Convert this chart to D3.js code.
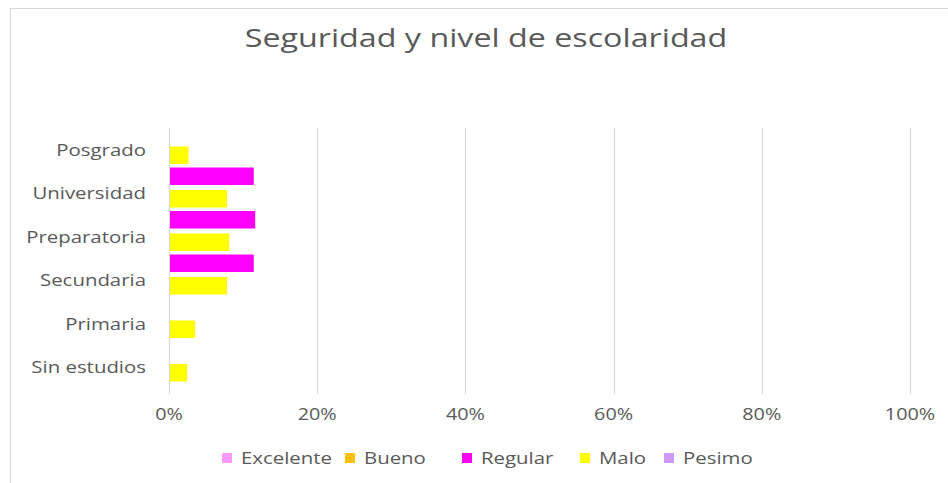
<!DOCTYPE html>
<html>
<head>
<meta charset="utf-8">
<script src="https://cdn.jsdelivr.net/npm/d3@7"></script>
<style>
  html, body { margin: 0; padding: 0; background: #fff; }
  svg { display: block; }
  text { font-family: "Open Sans", "Noto Sans", sans-serif; fill: #595959; }
</style>
</head>
<body>
<svg id="chart" width="948" height="483"></svg>
<script>
// ---- data ----
const categories = ["Posgrado", "Universidad", "Preparatoria", "Secundaria", "Primaria", "Sin estudios"];
const seriesNames = ["Excelente", "Bueno", "Regular", "Malo", "Pesimo"];
const seriesColors = ["#FF99FF", "#FFC000", "#FF00FF", "#FFFF00", "#CC99FF"];
const excelente = [0, 0, 0, 0, 0, 0];
const bueno     = [0, 0, 0, 0, 0, 0];
const regular   = [0, 11.3, 11.5, 11.3, 0, 0];
const malo      = [2.5, 7.7, 8.0, 7.7, 3.4, 2.3];
const pesimo    = [0, 0, 0, 0, 0, 0];
const xTicks = [0, 20, 40, 60, 80, 100];
const title = "Seguridad y nivel de escolaridad";

const values = [excelente, bueno, regular, malo, pesimo];

const svg = d3.select("#chart");
const W = 948, H = 483;
const SX = 1.2; // horizontal stretch of the reference text

// chart frame
svg.append("path")
  .attr("d", `M10.5,${H} V8.5 H${W}`)
  .attr("fill", "none").attr("stroke", "#d9d9d9").attr("stroke-width", 1);

const plot = { left: 169, right: 910, top: 128, bottom: 389 };

const x = d3.scaleLinear().domain([0, 100]).range([plot.left, plot.right]);
const y = d3.scaleBand().domain(categories).range([plot.top, plot.bottom]);
const sub = d3.scaleBand().domain(seriesNames)
  .range([-73.25, 39.25]).paddingInner(0.2222).paddingOuter(0.1111);

// gridlines
svg.append("g").selectAll("line").data(xTicks).join("line")
  .attr("x1", d => Math.round(x(d)) + 0.5).attr("x2", d => Math.round(x(d)) + 0.5)
  .attr("y1", plot.top).attr("y2", plot.bottom + 5)
  .attr("stroke", "#d9d9d9").attr("stroke-width", 1.2);

// bars
seriesNames.forEach((s, si) => {
  svg.append("g").selectAll("rect")
    .data(categories.map((c, ci) => ({ c, v: values[si][ci] })).filter(d => d.v > 0))
    .join("rect")
    .attr("x", x(0) + 1)
    .attr("y", d => y(d.c) + y.bandwidth() / 2 + sub(s))
    .attr("width", d => x(d.v) - x(0))
    .attr("height", sub.bandwidth())
    .attr("fill", seriesColors[si]);
});

function placeText(sel, fx, fy, sx) {
  return sel.attr("transform", (d, i) => `translate(${fx(d, i)},${fy(d, i)}) scale(${sx},1)`);
}

// category axis labels
placeText(
  svg.append("g").selectAll("text").data(categories).join("text")
    .attr("dy", "0.35em").attr("text-anchor", "end").attr("font-size", 17).text(d => d),
  () => 146, d => y(d) + y.bandwidth() / 2, SX);

// x axis labels
placeText(
  svg.append("g").selectAll("text").data(xTicks).join("text")
    .attr("text-anchor", "middle").attr("font-size", 16.5).text(d => d + "%"),
  d => x(d), () => 420, SX);

// title
placeText(
  svg.append("g").selectAll("text").data([title]).join("text")
    .attr("text-anchor", "middle").attr("font-size", 25).text(d => d),
  () => 486, () => 47, 1.29);

// legend
const legendX = [222, 345, 462, 580, 664];
const lg = svg.append("g");
lg.selectAll("rect").data(seriesNames).join("rect")
  .attr("x", (d, i) => legendX[i]).attr("y", 453).attr("width", 10).attr("height", 10)
  .attr("fill", (d, i) => seriesColors[i]);
placeText(
  lg.selectAll("text").data(seriesNames).join("text")
    .attr("dy", "0.35em").attr("font-size", 17).text(d => d),
  (d, i) => legendX[i] + 19, () => 458, SX);
</script>
</body>
</html>
